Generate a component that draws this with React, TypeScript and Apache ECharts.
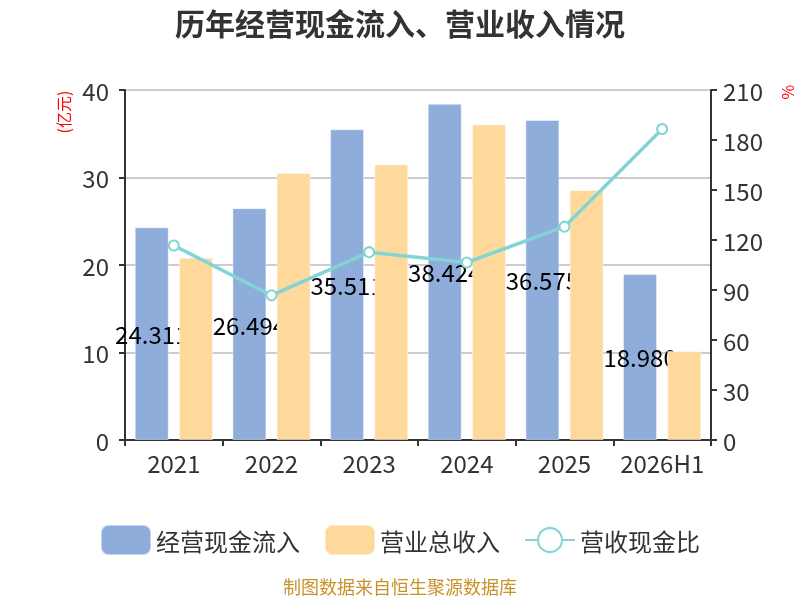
import React, { useEffect, useRef } from "react";
import * as echarts from "echarts";

const categories = ["2021", "2022", "2023", "2024", "2025", "2026H1"];
const cashInflow = [24.311, 26.494, 35.511, 38.424, 36.575, 18.98];
const revenue = [20.83, 30.51, 31.5, 36.07, 28.57, 10.17];
const ratio = [116.7, 86.8, 112.7, 106.5, 128.0, 186.6];
const leftTicks = { min: 0, max: 40, interval: 10 };
const rightTicks = { min: 0, max: 210, interval: 30 };

const FONT = "'Noto Sans CJK SC', 'Noto Sans', sans-serif";

export default function App() {
  const ref = useRef<HTMLDivElement>(null);
  useEffect(() => {
    if (!ref.current) return;
    const chart = echarts.init(ref.current, null, { renderer: "svg" });
    const axisLine = { show: true, lineStyle: { color: "#333", width: 2 } };
    const tick = { show: true, length: 6, lineStyle: { color: "#333", width: 2 } };
    chart.setOption({
      animation: false,
      textStyle: { fontFamily: FONT },
      title: {
        text: "历年经营现金流入、营业收入情况",
        left: "center",
        top: 2,
        textStyle: { fontSize: 30, fontWeight: "bold", color: "#333", fontFamily: FONT },
      },
      legend: {
        top: 519,
        left: "center",
        itemWidth: 50,
        itemHeight: 30,
        itemGap: 24,
        textStyle: { fontSize: 24, color: "#333", fontFamily: FONT },
        data: ["经营现金流入", "营业总收入", "营收现金比"],
      },
      grid: { left: 125, right: 89, top: 90, bottom: 160 },
      xAxis: {
        type: "category",
        data: categories,
        axisLine,
        axisTick: tick,
        axisLabel: { fontSize: 24, color: "#333", margin: 10, interval: 0, fontFamily: FONT },
      },
      yAxis: [
        {
          type: "value",
          ...leftTicks,
          axisLine,
          axisTick: tick,
          axisLabel: { fontSize: 24, color: "#333", margin: 16, fontFamily: FONT },
          splitLine: { show: true, lineStyle: { color: "#cccccc", width: 2 } },
        },
        {
          type: "value",
          ...rightTicks,
          axisLine,
          axisTick: tick,
          axisLabel: { fontSize: 24, color: "#333", margin: 12, fontFamily: FONT },
          splitLine: { show: false },
        },
      ],
      graphic: [
        {
          type: "text",
          x: 63,
          y: 112,
          rotation: Math.PI / 2,
          style: {
            text: "(亿元)",
            fill: "#ff0000",
            fontSize: 16,
            fontFamily: FONT,
            align: "center",
            verticalAlign: "middle",
          },
        },
        {
          type: "text",
          x: 787,
          y: 92,
          rotation: Math.PI / 2,
          style: {
            text: "%",
            fill: "#ff0000",
            fontSize: 16,
            fontFamily: FONT,
            align: "center",
            verticalAlign: "middle",
          },
        },
        {
          type: "text",
          x: 400,
          y: 586,
          style: {
            text: "制图数据来自恒生聚源数据库",
            fill: "#c8922a",
            fontSize: 18,
            fontFamily: FONT,
            align: "center",
            verticalAlign: "middle",
          },
        },
      ],
      series: [
        {
          name: "经营现金流入",
          type: "bar",
          z: 2,
          data: cashInflow,
          barWidth: 34,
          barGap: "30%",
          itemStyle: { color: "#8eaddb", borderColor: "rgba(255,255,255,0.45)", borderWidth: 1 },
          label: {
            show: true,
            position: "inside",
            color: "#000",
            fontSize: 24,
            fontFamily: FONT,
            formatter: (p: any) => p.value.toFixed(3),
          },
        },
        {
          name: "营业总收入",
          type: "bar",
          z: 3,
          data: revenue,
          barWidth: 34,
          itemStyle: { color: "#fed99b", borderColor: "rgba(255,255,255,0.45)", borderWidth: 1 },
        },
        {
          name: "营收现金比",
          type: "line",
          z: 4,
          yAxisIndex: 1,
          data: ratio,
          symbol: "emptyCircle",
          symbolSize: 10,
          lineStyle: { color: "#82d4d6", width: 3.5 },
          itemStyle: { color: "#82d4d6", borderWidth: 2 },
        },
      ],
    });
    return () => chart.dispose();
  }, []);
  return (
    <div
      ref={ref}
      style={{ position: "fixed", left: 0, top: 0, width: 800, height: 600 }}
    />
  );
}
